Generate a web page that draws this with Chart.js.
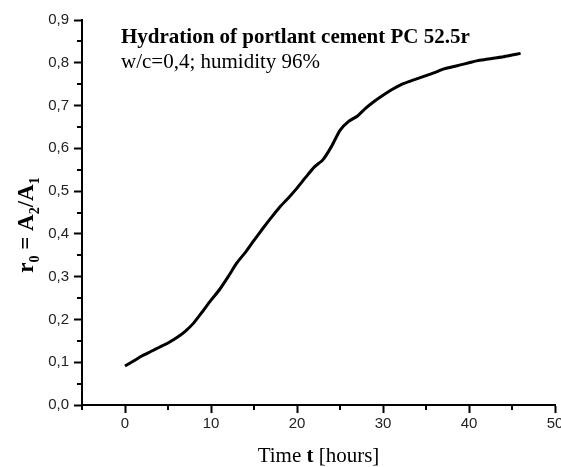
<!DOCTYPE html>
<html>
<head>
<meta charset="utf-8">
<script src="https://cdn.jsdelivr.net/npm/chart.js@4/dist/chart.umd.min.js"></script>
<style>
  body { margin: 0; background: #fff; }
  #wrap { width: 561px; height: 467px; }
</style>
</head>
<body>
<div id="wrap"><canvas id="chart" width="561" height="467"></canvas></div>
<script>
// hydration time in hours
const hours = [0, 1, 2, 3, 4, 5, 6, 7, 8, 9, 10, 11, 12, 13, 14, 15, 16, 17, 18, 19, 20,
  21, 22, 23, 24, 25, 26, 27, 28, 29, 30, 31, 32, 33, 34, 35, 36, 37, 38, 39, 40,
  41, 42, 43, 44, 45, 46];
// r0 = A2/A1
const ratio = [0.091, 0.103, 0.115, 0.125, 0.135, 0.145, 0.157, 0.172, 0.192, 0.218, 0.245,
  0.270, 0.300, 0.332, 0.357, 0.385, 0.412, 0.438, 0.463, 0.484, 0.507,
  0.532, 0.556, 0.573, 0.604, 0.642, 0.663, 0.675, 0.694, 0.710, 0.724,
  0.737, 0.748, 0.756, 0.763, 0.770, 0.777, 0.785, 0.790, 0.795, 0.800,
  0.805, 0.808, 0.811, 0.814, 0.818, 0.822];

const titleLine = "Hydration of portlant cement PC 52.5r";
const subLine = "w/c=0,4; humidity 96%";

const xMinor = [-5, 5, 15, 25, 35, 45];
const yMinor = [0.05, 0.15, 0.25, 0.35, 0.45, 0.55, 0.65, 0.75, 0.85];

// minor ticks, inside caption and axis titles (mixed fonts)
const extras = {
  id: "extras",
  afterDraw(chart) {
    const ctx = chart.ctx;
    const xs = chart.scales.x, ys = chart.scales.y;
    const area = chart.chartArea;
    ctx.save();
    ctx.strokeStyle = "#000";
    ctx.lineWidth = 2;
    ctx.beginPath();
    xMinor.forEach(v => {
      const px = Math.round(xs.getPixelForValue(v));
      ctx.moveTo(px, area.bottom);
      ctx.lineTo(px, area.bottom + 5);
    });
    yMinor.forEach(v => {
      const py = Math.round(ys.getPixelForValue(v));
      ctx.moveTo(area.left, py);
      ctx.lineTo(area.left - 5, py);
    });
    ctx.stroke();

    // caption
    ctx.fillStyle = "#000";
    ctx.textBaseline = "alphabetic";
    ctx.textAlign = "left";
    ctx.font = "bold 21px 'Liberation Serif'";
    ctx.fillText(titleLine, 121, 43);
    ctx.font = "21px 'Liberation Serif'";
    ctx.fillText(subLine, 121, 68);

    // x title: Time t [hours]
    const reg = "21px 'Liberation Serif'";
    const parts = [["Time ", reg], ["t", "bold 21px 'Liberation Serif'"], [" [hours]", reg]];
    let total = 0;
    parts.forEach(p => { ctx.font = p[1]; total += ctx.measureText(p[0]).width; });
    let x = (area.left + area.right) / 2 - total / 2;
    parts.forEach(p => { ctx.font = p[1]; ctx.fillText(p[0], x, 462); x += ctx.measureText(p[0]).width; });

    // y title: r0 = A2/A1, rotated
    const big = "bold 23px 'Liberation Serif'", sub = "bold 14px 'Liberation Serif'";
    const yparts = [["r", big, 0], ["0", sub, 6], [" = A", big, 0], ["2", sub, 6], ["/A", big, 0], ["1", sub, 6]];
    let tw = 0;
    yparts.forEach(p => { ctx.font = p[1]; tw += ctx.measureText(p[0]).width; });
    ctx.translate(33, 225);
    ctx.rotate(-Math.PI / 2);
    let cx = -tw / 2;
    yparts.forEach(p => { ctx.font = p[1]; ctx.fillText(p[0], cx, p[2]); cx += ctx.measureText(p[0]).width; });
    ctx.restore();
  }
};

new Chart(document.getElementById("chart"), {
  type: "line",
  data: {
    datasets: [{
      data: hours.map((h, i) => ({ x: h, y: ratio[i] })),
      borderColor: "#000",
      borderWidth: 3,
      pointRadius: 0,
      tension: 0.2,
      fill: false
    }]
  },
  options: {
    responsive: false,
    animation: false,
    devicePixelRatio: 1,
    layout: { padding: { left: 0, right: 6, top: 20, bottom: 0 } },
    plugins: { legend: { display: false }, tooltip: { enabled: false } },
    scales: {
      x: {
        type: "linear",
        min: -5,
        max: 50,
        afterFit: s => { s.height = 62; s.paddingRight = 0; s.paddingLeft = 0; },
        border: { color: "#000", width: 2 },
        grid: { drawOnChartArea: false, tickLength: 8, tickColor: "#000", tickWidth: 2 },
        ticks: {
          stepSize: 10,
          includeBounds: false,
          maxRotation: 0,
          padding: 2,
          color: "#222",
          font: { family: "'Liberation Sans'", size: 15 }
        }
      },
      y: {
        min: 0,
        max: 0.9,
        afterFit: s => { s.width = 82; s.paddingTop = 0; s.paddingBottom = 0; },
        border: { color: "#000", width: 2 },
        grid: { drawOnChartArea: false, tickLength: 8, tickColor: "#000", tickWidth: 2 },
        ticks: {
          stepSize: 0.1,
          padding: 5,
          color: "#222",
          font: { family: "'Liberation Sans'", size: 15 },
          callback: v => v.toFixed(1).replace(".", ",")
        }
      }
    }
  },
  plugins: [extras]
});
</script>
</body>
</html>
